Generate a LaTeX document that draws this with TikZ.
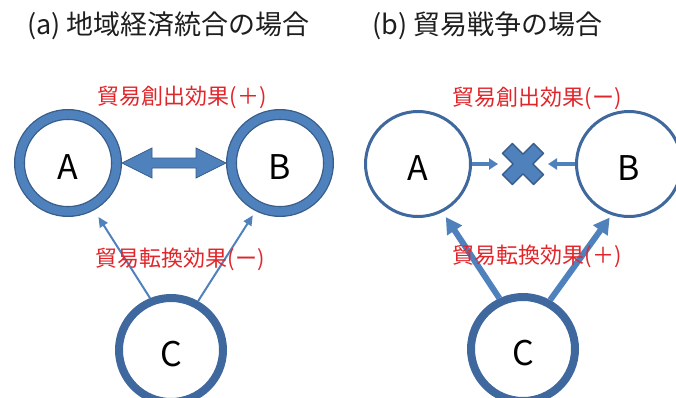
\documentclass[tikz,border=0pt]{standalone}
\usepackage{fontspec}
\setmainfont{Noto Sans CJK JP}
\usetikzlibrary{arrows.meta,calc}

\definecolor{ringfill}{HTML}{4F81BD}
\definecolor{ringedge}{HTML}{385D8A}
\definecolor{ringdark}{HTML}{3F689E}
\definecolor{arrowblue}{HTML}{4F81BD}
\definecolor{labelred}{HTML}{E0262B}
\definecolor{titleink}{HTML}{1E1E1E}

\begin{document}
\begin{tikzpicture}[x=1pt,y=-1pt,
  country/.style={circle, fill=white, inner sep=0pt, text height=33pt, text depth=0pt,
    font=\fontsize{34}{34}\selectfont},
  boldring/.style={country, draw=ringedge, line width=1.3pt, double=ringfill,
    double distance=8.4pt, minimum size=97pt, outer sep=5.5pt},
  midring/.style={country, draw=ringdark, line width=8pt, minimum size=104pt},
  thinring/.style={country, draw=ringdark, line width=3pt, minimum size=105pt},
  effect/.style={text=labelred, font=\fontsize{22}{22}\selectfont, inner sep=0pt},
  heading/.style={text=titleink, font=\fontsize{27}{27}\selectfont, inner sep=0pt, anchor=west},
  thinflow/.style={draw=arrowblue, line width=2pt, -{Triangle[length=10pt,width=9pt]}},
  thickflow/.style={draw=arrowblue, line width=6pt, -{Triangle[length=16pt,width=17pt]}},
  blockflow/.style={draw=arrowblue, line width=3.5pt, -{Triangle[length=9pt,width=11pt]}},
  fatarrow/.style={fill=ringfill, draw=ringedge, line width=0.8pt, line join=miter},
  crossmark/.style={fill=ringfill, draw=ringedge, line width=1.5pt, line join=round},
]

\useasboundingbox (0,0) rectangle (676,398);
\clip (0,0) rectangle (676,398);

% headings
\node[heading] (titleA) at (27,26) {(a) 地域経済統合の場合};
\node[heading] (titleB) at (372,26) {(b) 貿易戦争の場合};

% (a) regional integration
\node[boldring] (aA) at (68,163) {A};
\node[boldring] (aB) at (280,163) {B};
\node[midring] (aC) at (171,350) {C};

\path[fatarrow] (aA.east) -- ++(30,-15) -- ++(0,10) -- ($(aB.west)+(-30,-5)$)
  -- ++(0,-10) -- (aB.west) -- ++(-30,15) -- ++(0,-10) -- ($(aA.east)+(30,5)$)
  -- ++(0,10) -- cycle;

\draw[thinflow, shorten >=8pt] (aC.112) -- (aA.-61);
\draw[thinflow, shorten >=5pt] (aC.61) -- (aB.-117);

\node[effect] (createA) at (182,97) {貿易創出効果(＋)};
\node[effect] (divertA) at (180,259) {貿易転換効果(ー)};

% (b) trade war
\node[thinring] (bA) at (418,164) {A};
\node[thinring] (bB) at (629,164) {B};
\node[midring] (bC) at (523,349) {C};
\coordinate (X) at (523,164);

\draw[blockflow, shorten >=25pt] (bA.east) -- (X);
\draw[blockflow, shorten >=25pt] (bB.west) -- (X);
\draw[crossmark, shift={(X)}, rotate=45]
  (-7,-22) -- (7,-22) -- (7,-7) -- (22,-7) -- (22,7) -- (7,7) -- (7,22)
  -- (-7,22) -- (-7,7) -- (-22,7) -- (-22,-7) -- (-7,-7) -- cycle;

\draw[thickflow, shorten >=6pt] (bC.115) -- (bA.-63);
\draw[thickflow, shorten >=3pt] (bC.61) -- (bB.-109);

\node[effect] (createB) at (537,98) {貿易創出効果(ー)};
\node[effect] (divertB) at (537,256) {貿易転換効果(＋)};
\end{tikzpicture}
\end{document}
